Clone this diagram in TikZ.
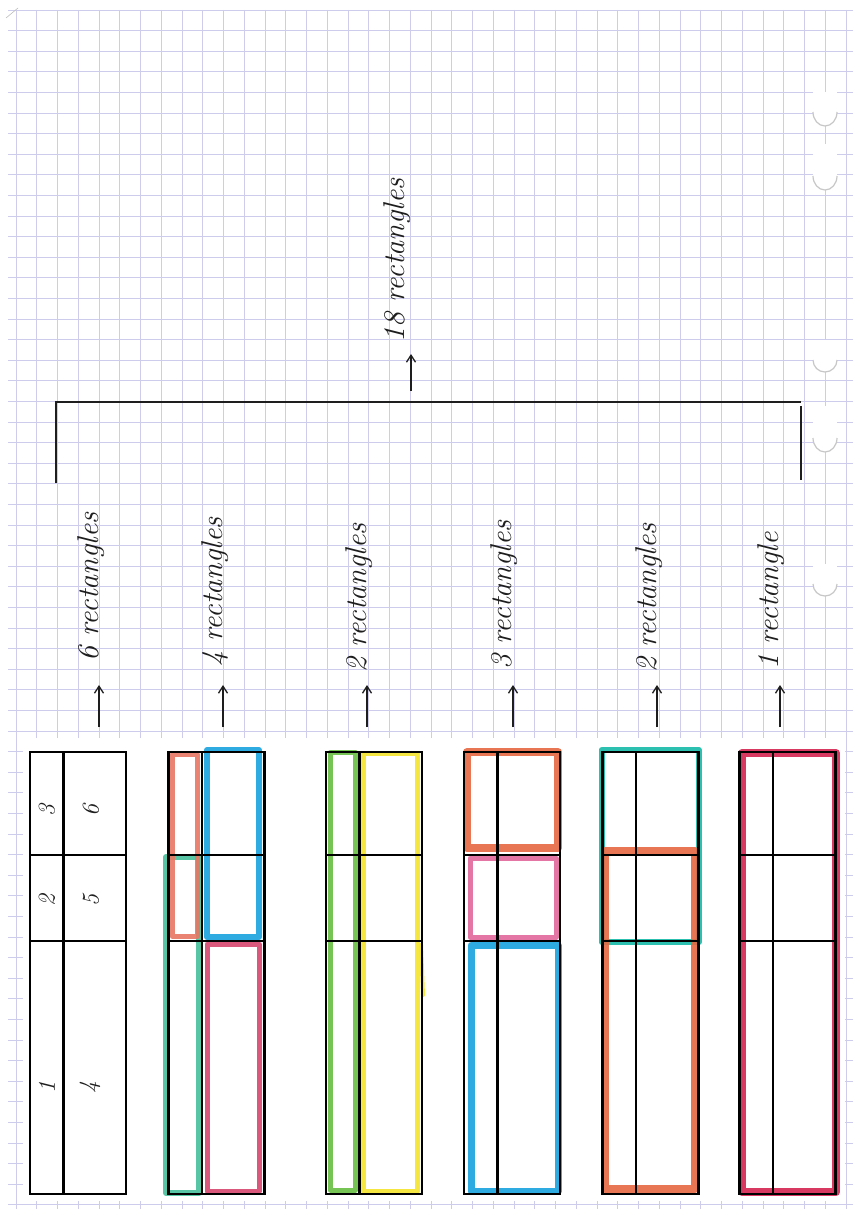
\documentclass[tikz,border=0pt]{standalone}
\usetikzlibrary{arrows.meta}
\definecolor{gridc}{RGB}{206,204,236}
\definecolor{mSalmon}{RGB}{232,118,98}
\definecolor{mBlue}{RGB}{24,164,222}
\definecolor{mTeal}{RGB}{70,192,156}
\definecolor{mPink}{RGB}{214,70,110}
\definecolor{mGreen}{RGB}{104,190,66}
\definecolor{mYellow}{RGB}{246,228,46}
\definecolor{mOrange}{RGB}{230,104,66}
\definecolor{mMagenta}{RGB}{226,104,156}
\definecolor{mTurq}{RGB}{22,186,168}
\definecolor{mCrimson}{RGB}{212,36,80}
\definecolor{ink}{RGB}{30,30,30}
\begin{document}
\begin{tikzpicture}[x=1pt,y=-1pt,
  gridline/.style={draw=gridc,line width=0.7pt},
  blk/.style={draw=black,line width=2.4pt},
  mk/.style={line width=6pt,line cap=round,line join=round,opacity=0.9},
  lab/.style={rotate=90,anchor=base west,inner sep=0pt,text=ink,font=\itshape\fontsize{30}{33}\selectfont},
  num/.style={rotate=90,inner sep=0pt,text=ink,font=\itshape\fontsize{24}{26}\selectfont},
  arr/.style={-{Straight Barb[length=7pt,width=9pt]},line width=1.3pt,draw=ink},
  brk/.style={draw=ink,line width=1.6pt},
  ringedge/.style={draw=black!22,line width=1.2pt}]
\fill[white] (0,0) rectangle (853,1209);
\useasboundingbox (0,0) rectangle (853,1209);
% graph paper
\foreach \i in {0,...,40} \draw[gridline] ({16+20.75*\i},10) -- ({16+20.75*\i},1209);
\foreach \j in {0,...,58} \draw[gridline] (8,{10+20.6*\j}) -- (853,{10+20.6*\j});
\draw[draw=black!25,line width=0.6pt] (6,18) -- (18,8);
% binder ring marks
\foreach \c/\ry/\top in {112/14/92,360/12/340,584/12/564}{
  \fill[white] (825,\c) ellipse [x radius=12, y radius=\ry];
  \fill[white] (813,\top) rectangle (837,\c);
  \draw[ringedge] (813,\c) arc[start angle=180,end angle=0,x radius=12,y radius=\ry];
}
\foreach \c in {168,430}{
  \fill[white] (813,\c-24) rectangle (837,\c+8);
  \fill[white] (825,\c+8) ellipse [x radius=12, y radius=14];
  \draw[ringedge] (813,\c+8) arc[start angle=180,end angle=0,x radius=12,y radius=14];
}
% white sheet
\fill[white] (23,738) rectangle (845,1201);
% bracket
\coordinate (bl) at (56,483);
\coordinate (blt) at (56,402);
\coordinate (brt) at (801,402);
\coordinate (brv) at (801,406);
\coordinate (br) at (801,480);
\draw[brk] (bl) -- (blt) -- (brt);
\draw[brk] (brv) -- (br);
% 18 rectangles
\node[lab] (l18) at (404,343) {18 rectangles};
\coordinate (t18) at (411,391);
\coordinate (h18) at (411,354);
\draw[arr] (t18) -- (h18);
% column labels
\node[lab] (l1) at (98,662) {6 rectangles};
\node[lab] (l2) at (222,667) {4 rectangles};
\node[lab] (l3) at (366,673) {2 rectangles};
\node[lab] (l4) at (511,670) {3 rectangles};
\node[lab] (l5) at (656,673) {2 rectangles};
\node[lab] (l6) at (778,670) {1 rectangle};
\foreach \k/\x in {1/99,2/223,3/367,4/513,5/657,6/780}{
  \coordinate (t\k) at (\x,727);
  \coordinate (h\k) at (\x,685);
  \draw[arr] (t\k) -- (h\k);
}
% marker highlights
\draw[mk,mTeal] (166,857) rectangle (199,1193);
\draw[mk,mSalmon,line width=5pt] (172,754) rectangle (197,936);
\draw[mk,mBlue] (207,750) rectangle (259,937);
\draw[mk,mPink,line width=5pt] (207,944) rectangle (259,1191);
\draw[mk,mGreen,line width=5pt] (330.5,752) rectangle (355,1190);
\draw[mk,mYellow,line width=5pt] (363,753) rectangle (417,1191);
\draw[mk,mYellow,line width=4pt] (421,945) -- (423,995);
\draw[mk,mOrange,line width=8pt] (467,752) rectangle (558,848);
\draw[mk,mMagenta,line width=5pt] (470,858) rectangle (556,937);
\draw[mk,mBlue,line width=7pt] (471,945) rectangle (558,1191);
\draw[mk,mTurq] (601.5,750) rectangle (699,942);
\draw[mk,mOrange,line width=8pt] (605,851) rectangle (695,1189);
\draw[mk,mCrimson,line width=8pt] (742,753) rectangle (836,1192);
% black tables
\foreach \k/\x in {1/30,2/168.3,3/326,4/464,5/602.3,6/739.3}{
  \node[blk,minimum width=96pt,minimum height=442pt,inner sep=0pt] (r\k) at (\x+48,973) {};
  \draw[blk] (\x+33.4,752) -- (\x+33.4,1194);
  \draw[blk] (\x,855) -- (\x+96,855);
  \draw[blk] (\x,941) -- (\x+96,941);
}
% numbers
\node[num] (n3) at (47,810) {3};
\node[num] (n6) at (91,810) {6};
\node[num] (n2) at (47,900) {2};
\node[num] (n5) at (91,900) {5};
\node[num] (n1) at (47,1087) {1};
\node[num] (n4) at (90,1087) {4};
\end{tikzpicture}
\end{document}
